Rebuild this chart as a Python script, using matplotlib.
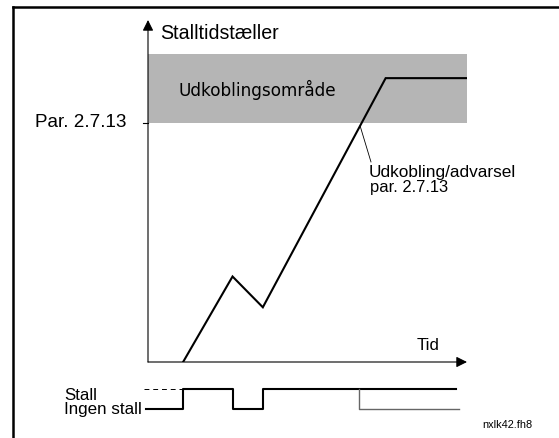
import matplotlib
matplotlib.use("Agg")
import matplotlib.pyplot as plt
from matplotlib.lines import Line2D

# ---- data (schematic units) ----
curve_t = [1.1, 2.65, 3.6, 7.45, 10.0]      # time
curve_v = [0.0, 2.5, 1.6, 8.3, 8.3]         # stall time counter
limit_val = 7.0                              # Par. 2.7.13
band_top = 9.0
trip_t = 6.62
sig_t = [-0.06, 1.1, 2.65, 3.6, 9.65]
sig_v = [0, 1, 0, 1, 1]                      # 1 = Stall, 0 = Ingen stall
sig_dash_t = [-0.12, 1.1]
trip_sig_t = [trip_t, trip_t, 9.75]
trip_sig_v = [1, 0, 0]

W, H = 559, 439
fig = plt.figure(figsize=(W / 100, H / 100), dpi=100)
plt.rcParams['font.family'] = ['Liberation Sans', 'DejaVu Sans']

def fx(x):
    return x / W

def fy(y):
    return 1 - y / H

# outer frame (top and left border)
fig.add_artist(Line2D([fx(13), fx(13)], [fy(8), fy(439)], color='black', lw=1.8))
fig.add_artist(Line2D([fx(13), fx(559)], [fy(8), fy(8)], color='black', lw=1.8))

# main axes
L, R, T, B = 148, 467, 21, 363
ax = fig.add_axes([fx(L), fy(B), (R - L) / W, (B - T) / H])
ax.set_xlim(0, 10)
ax.set_ylim(0, 10)
ax.axis('off')

ax.fill_between([0, 10], limit_val, band_top, color='#b5b5b5', lw=0)
ax.plot(curve_t, curve_v, color='black', lw=1.5, solid_joinstyle='miter')
ax.annotate('', xy=(0, 10), xytext=(0, 0),
            arrowprops=dict(arrowstyle='-|>', color='black', lw=0.8,
                            mutation_scale=16, shrinkA=0, shrinkB=0))
ax.annotate('', xy=(10, 0), xytext=(0, 0),
            arrowprops=dict(arrowstyle='-|>', color='black', lw=0.8,
                            mutation_scale=16, shrinkA=0, shrinkB=0))
ax.plot([-0.17, 0], [limit_val, limit_val], color='black', lw=0.8, clip_on=False)
# leader line
ax.plot([6.65, 6.99], [6.9, 5.85], color='black', lw=0.6, clip_on=False)

# signal axes
sb, st = 420, 380
ax2 = fig.add_axes([fx(L), fy(sb), (R - L) / W, (sb - st) / H])
ax2.set_xlim(0, 10)
ax2.set_ylim(-0.5, 1.5)
ax2.axis('off')
ax2.plot(sig_t, sig_v, drawstyle='steps-post', color='black', lw=1.5, clip_on=False)
ax2.plot(sig_dash_t, [1, 1], color='black', lw=0.7, ls=(0, (5, 4)), clip_on=False)
ax2.plot(trip_sig_t, trip_sig_v, color='#666666', lw=1.0, clip_on=False)

# texts, sized to match reference widths
renderer = fig.canvas.get_renderer()

def txt(x0, x1, y, s, family=None):
    fam = family or ['Liberation Sans', 'DejaVu Sans']
    t = fig.text(fx(x0), fy(y), s, fontsize=12, family=fam, va='baseline', ha='left')
    w = t.get_window_extent(renderer).width
    t.set_fontsize(12 * (x1 - x0) / w)
    return t

txt(160, 278, 39, 'Stalltidstæller')
txt(35, 126, 127, 'Par. 2.7.13')
txt(179, 337, 96, 'Udkoblingsområde', family=['DejaVu Sans'])
txt(417, 440, 350, 'Tid')
txt(369, 516, 177, 'Udkobling/advarsel')
txt(370, 448, 192, 'par. 2.7.13')
txt(64, 97, 400, 'Stall')
txt(64, 142, 414, 'Ingen stall')
txt(482, 532, 428, 'nxlk42.fh8')

fig.savefig('out.png', dpi=100)
